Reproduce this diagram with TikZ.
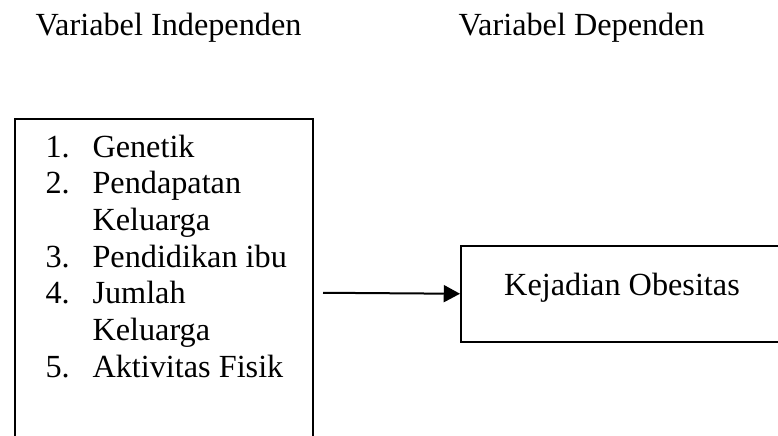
\documentclass[tikz,border=0pt]{standalone}
\usepackage{fontspec}
\setmainfont{Liberation Serif}
\usetikzlibrary{arrows.meta}
\begin{document}
\begin{tikzpicture}[x=0.4pt,y=-0.4pt,
  txt/.style={inner sep=0pt,anchor=base west,font=\fontsize{12.9pt}{15pt}\selectfont},
  boxline/.style={draw=black,line width=0.8pt,inner sep=0pt},
  conn/.style={line width=0.8pt,-{Triangle[length=6.5pt,width=6.8pt]}}]
\useasboundingbox (0,0) rectangle (778,435);
\begin{scope}
\clip (0,0) rectangle (778,435);
% boxes
\node[boxline,rectangle,minimum width=298*0.4pt,minimum height=400*0.4pt,anchor=north west] (indep) at (14,118) {};
\node[boxline,rectangle,minimum width=318*0.4pt,minimum height=95.5*0.4pt,anchor=north west] (dep) at (460,245) {};
\end{scope}
% headers
\node[txt] (h1) at (35,35) {Variabel Independen};
\node[txt] (h2) at (458,35) {Variabel Dependen};
% list
\node[txt] (n1) at (45,157) {1.};
\node[txt] (t1) at (92,157) {Genetik};
\node[txt] (n2) at (45,193.7) {2.};
\node[txt] (t2) at (92,193.7) {Pendapatan};
\node[txt] (t2b) at (92,230.3) {Keluarga};
\node[txt] (n3) at (45,267) {3.};
\node[txt] (t3) at (92,267) {Pendidikan ibu};
\node[txt] (n4) at (45,303.7) {4.};
\node[txt] (t4) at (92,303.7) {Jumlah};
\node[txt] (t4b) at (92,340.3) {Keluarga};
\node[txt] (n5) at (45,377) {5.};
\node[txt] (t5) at (92,377) {Aktivitas Fisik};
% dependent label
\node[txt,anchor=base] (kej) at (622,295) {Kejadian Obesitas};
% arrow
\coordinate (a0) at (323,292.75);
\draw[conn] (a0) -- (dep.west);
\end{tikzpicture}
\end{document}
